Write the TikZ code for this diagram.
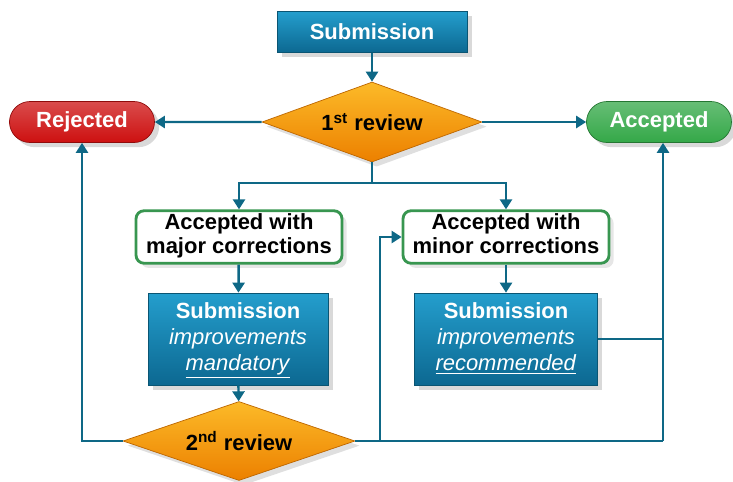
\documentclass[tikz,border=0pt]{standalone}
\usepackage{fontspec}
\setmainfont{Liberation Sans}
\usetikzlibrary{arrows.meta, shapes.geometric, shapes.misc, shadows}

\definecolor{linkteal}{RGB}{14,104,134}
\definecolor{boxtop}{RGB}{36,158,205}
\definecolor{boxbot}{RGB}{12,104,145}
\definecolor{boxedge}{RGB}{10,85,115}
\definecolor{revtop}{RGB}{252,186,40}
\definecolor{revbot}{RGB}{236,128,0}
\definecolor{rejred}{RGB}{205,16,16}
\definecolor{accgreen}{RGB}{52,168,72}
\definecolor{corredge}{RGB}{56,150,80}

\begin{document}
\begin{tikzpicture}[
    x=0.02cm, y=-0.02cm,
    every node/.style={
        font=\fontsize{12.5}{14}\selectfont,
    },
    flow/.style={
        draw=linkteal,
        line width=1.4pt,
        -{Triangle[length=2mm, width=2.4mm]},
    },
    link/.style={
        draw=linkteal,
        line width=1.4pt,
    },
    subbox/.style={
        rectangle,
        draw=boxedge,
        top color=boxtop,
        bottom color=boxbot,
        text=white,
        align=center,
        inner sep=0pt,
        font=\fontsize{12.5}{14.8}\selectfont,
        drop shadow={opacity=0.3},
    },
    review/.style={
        diamond,
        aspect=2.75,
        draw=revbot!80!black,
        top color=revtop,
        bottom color=revbot,
        inner sep=0pt,
        font=\fontsize{12.5}{14}\selectfont\bfseries,
        drop shadow={opacity=0.25},
    },
    outcome/.style={
        rounded rectangle,
        minimum width=2.9cm,
        minimum height=0.82cm,
        text=white,
        inner sep=0pt,
        font=\fontsize{12.5}{14}\selectfont\bfseries,
        drop shadow={opacity=0.3},
    },
    corrbox/.style={
        rectangle,
        rounded corners=1.6mm,
        draw=corredge,
        line width=1.6pt,
        fill=white,
        align=center,
        minimum width=4.12cm,
        minimum height=1.05cm,
        inner sep=0pt,
        font=\fontsize{12.5}{13.6}\selectfont\bfseries,
        drop shadow={opacity=0.2},
    }
]
    \useasboundingbox (0,0) rectangle (733,481);

    % First round
    \node[subbox, minimum width=3.8cm, minimum height=0.82cm,
          font=\fontsize{12.5}{14}\selectfont\bfseries] (sub) at (372,32) {Submission};
    \node[review, minimum width=4.4cm, minimum height=1.6cm] (rev1) at (372,122) {1\textsuperscript{st} review};

    % Outcomes
    \node[outcome, top color=rejred!75!white, bottom color=rejred, draw=rejred!70!black] (rej) at (82,122) {Rejected};
    \node[outcome, top color=accgreen!75!white, bottom color=accgreen, draw=accgreen!70!black] (acc) at (659,122) {Accepted};

    % Corrections
    \node[corrbox] (major) at (239,237) {\strut Accepted with\\major corrections\strut};
    \node[corrbox] (minor) at (506,237) {\strut Accepted with\\minor corrections\strut};

    % Resubmissions
    \node[subbox, minimum width=3.6cm, minimum height=1.84cm] (mand) at (238,339)
        {\strut\textbf{Submission}\\\textit{improvements}\\\underline{\textit{mandatory}}\strut};
    \node[subbox, minimum width=3.66cm, minimum height=1.84cm] (recm) at (506,339)
        {\strut\textbf{Submission}\\\textit{improvements}\\\underline{\textit{recommended}}\strut};

    % Second round
    \node[review, minimum width=4.64cm, minimum height=1.58cm] (rev2) at (239,441) {2\textsuperscript{nd} review};

    % Branch points
    \coordinate (split) at (372,183);
    \coordinate (mid) at (380,441);
    \coordinate (rline) at (663,441);

    % Connectors
    \draw[flow] (sub) -- (rev1);
    \draw[flow] (rev1) -- (rej);
    \draw[flow] (rev1) -- (acc);
    \draw[link] (rev1) -- (split);
    \draw[flow] (split) -| (major);
    \draw[flow] (split) -| (minor);
    \draw[flow] (major) -- (mand);
    \draw[flow] (minor) -- (recm);
    \draw[flow] (mand) -- (rev2);
    \draw[flow] (rev2.west) -| (rej);
    \draw[link] (rev2.east) -- (rline);
    \draw[flow] (mid) |- (minor);
    \draw[flow] (rline) -- (rline |- acc.south);
    \draw[link] (recm.east) -- (recm.east -| rline);
\end{tikzpicture}
\end{document}
